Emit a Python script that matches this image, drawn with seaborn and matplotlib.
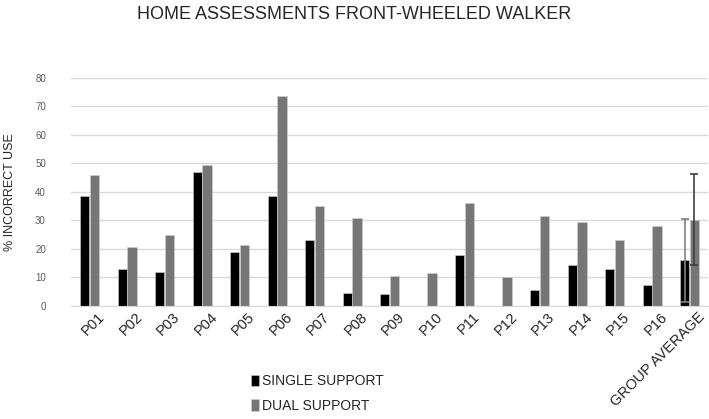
import numpy as np
import pandas as pd
import seaborn as sns
import matplotlib
matplotlib.use('Agg')
import matplotlib.pyplot as plt
import matplotlib.transforms as mtransforms

participants = ['P01', 'P02', 'P03', 'P04', 'P05', 'P06', 'P07', 'P08', 'P09',
                'P10', 'P11', 'P12', 'P13', 'P14', 'P15', 'P16', 'GROUP AVERAGE']
single_support = [38.5, 13, 12, 47, 19, 38.5, 23, 4.5, 4, 0, 18, 0, 5.5, 14.5, 13, 7.5, 16]
dual_support = [46, 20.5, 25, 49.5, 21.5, 73.5, 35, 31, 10.5, 11.5, 36, 10, 31.5, 29.5, 23, 28, 30.3]
avg_sd = [14.5, 16]  # group average error bars (single, dual)

df = pd.DataFrame({'participant': participants * 2,
                   'value': single_support + dual_support,
                   'support': ['SINGLE SUPPORT'] * len(participants) + ['DUAL SUPPORT'] * len(participants)})

sns.set_style('white')
plt.rcParams['font.family'] = ['Liberation Sans', 'DejaVu Sans']

fig = plt.figure(figsize=(7.09, 4.19), dpi=100)
ax = fig.add_axes([0.1, 0.27, 0.899, 0.544])
sns.barplot(data=df, x='participant', y='value', hue='support',
            palette=['#000000', '#767676'], width=0.52, gap=0.06, ax=ax,
            edgecolor='#d0d0d0', linewidth=0.4)

# error bars on the group average bars
n = len(participants) - 1
ax.errorbar([n - 0.13], [single_support[-1]], yerr=[avg_sd[0]], fmt='none',
            ecolor='#808080', elinewidth=1.2, capsize=3, capthick=1.2)
ax.errorbar([n + 0.13], [dual_support[-1]], yerr=[avg_sd[1]], fmt='none',
            ecolor='#404040', elinewidth=1.2, capsize=3, capthick=1.2)

ax.set_ylim(0, 80)
ax.set_xlim(-0.5, n + 0.5)
ax.set_yticks(range(0, 81, 10))
ax.yaxis.grid(True, color='#d9d9d9', linewidth=1)
ax.set_axisbelow(True)
for s in ['top', 'right', 'left']:
    ax.spines[s].set_visible(False)
ax.spines['bottom'].set_color('#d9d9d9')
ax.tick_params(axis='y', labelsize=7, colors='#595959', length=0, pad=18)
ax.tick_params(axis='x', length=0, labelsize=10.5, pad=3)
shift = mtransforms.ScaledTranslation(8 / 100, 0, fig.dpi_scale_trans)
for lab in ax.get_xticklabels():
    lab.set_rotation(45)
    lab.set_ha('right')
    lab.set_rotation_mode('anchor')
    lab.set_transform(lab.get_transform() + shift)
ax.set_xlabel('')
ax.set_ylabel('% INCORRECT USE', fontsize=9, labelpad=14)
fig.suptitle('HOME ASSESSMENTS FRONT-WHEELED WALKER', fontsize=13, y=0.985)

ax.legend(loc='upper center', bbox_to_anchor=(0.387, -0.245), frameon=False,
          fontsize=10, handlelength=0.6, handleheight=0.9, handletextpad=0.2,
          labelspacing=0.75)

fig.savefig('out.png', dpi=100)
